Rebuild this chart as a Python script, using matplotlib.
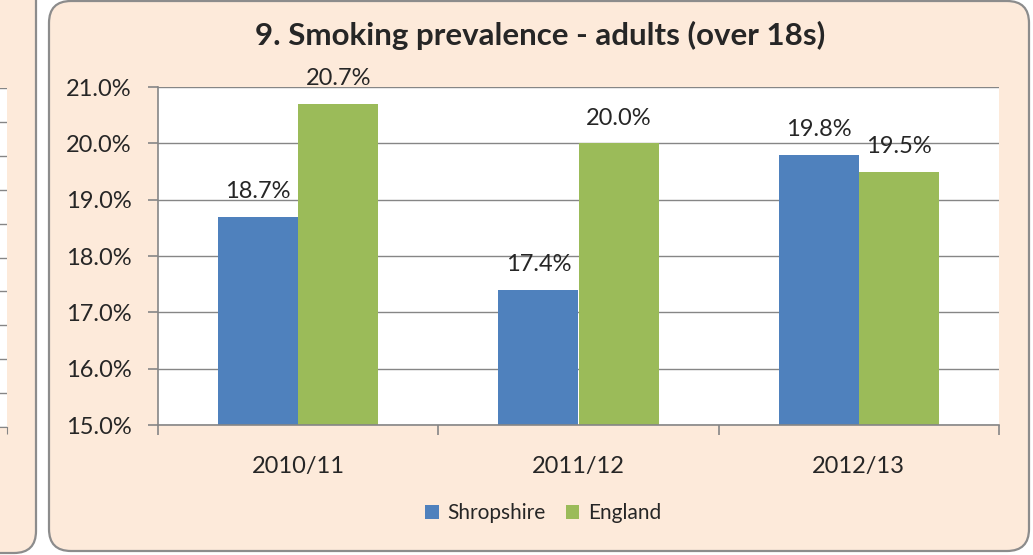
import matplotlib
matplotlib.use("Agg")
import matplotlib.pyplot as plt
from matplotlib.patches import FancyBboxPatch
from matplotlib.transforms import IdentityTransform
import numpy as np

plt.rcParams['font.family'] = ['Lato', 'DejaVu Sans']

categories = ["2010/11", "2011/12", "2012/13"]
shropshire = [18.7, 17.4, 19.8]
england = [20.7, 20.0, 19.5]
series_names = ["Shropshire", "England"]
yticks = [15.0, 16.0, 17.0, 18.0, 19.0, 20.0, 21.0]
title = "9. Smoking prevalence - adults (over 18s)"

W, H = 1033, 555
fig = plt.figure(figsize=(W / 100, H / 100), dpi=100)
fig.patch.set_facecolor("white")

panel_fc = "#FDEADA"
border = "#8C8C8C"
text_c = "#262626"
axis_c = "#868686"

def px_box(x0, y0, x1, y1, r):
    # y measured from top in pixels
    p = FancyBboxPatch((x0, H - y1), x1 - x0, y1 - y0,
                       boxstyle=f"round,pad=0,rounding_size={r}",
                       facecolor=panel_fc, edgecolor=border, linewidth=1.6)
    p.set_transform(IdentityTransform())
    p.set_zorder(-5)
    return p

fig.add_artist(px_box(-60, -30, 36, 553, 22))
fig.add_artist(px_box(49, 1, 1029, 551, 22))

# partial neighbouring chart at left
axl = fig.add_axes([-100 / W, (H - 427) / H, 107 / W, (427 - 88) / H])
axl.set_facecolor("white")
axl.set_xlim(0, 1)
axl.set_ylim(0, 10)
axl.set_yticks(range(11))
axl.grid(axis='y', color=axis_c, linewidth=1.0)
axl.set_xticks([1.0])
axl.tick_params(axis='x', length=5, color=axis_c, labelbottom=False)
axl.tick_params(axis='y', length=0, labelleft=False)
for s in ['top', 'left', 'right']:
    axl.spines[s].set_visible(False)
axl.spines['bottom'].set_color(axis_c)
axl.set_axisbelow(True)

# main chart
ax = fig.add_axes([158 / W, (H - 425) / H, (999 - 158) / W, (425 - 87) / H])
ax.set_facecolor("white")
x = np.arange(len(categories))
bw = 0.2857
b1 = ax.bar(x - bw / 2, shropshire, bw, color="#4F81BD", label=series_names[0], zorder=2)
b2 = ax.bar(x + bw / 2, england, bw, color="#9BBB59", label=series_names[1], zorder=2)
ax.set_ylim(15, 21)
ax.set_xlim(-0.5, len(categories) - 0.5)
ax.set_yticks(yticks)
ax.set_yticklabels([f"{v:.1f}%" for v in yticks])
ax.grid(axis='y', color=axis_c, linewidth=1.0, zorder=0)
ax.set_axisbelow(True)
ax.set_xticks(x)
ax.set_xticklabels(categories)
ax.set_xticks(np.arange(len(categories) + 1) - 0.5, minor=True)
ax.tick_params(axis='x', which='major', length=0, pad=22, labelsize=17, labelcolor=text_c)
ax.tick_params(axis='x', which='minor', length=7, color=axis_c, width=1.2)
ax.tick_params(axis='y', length=7, color=axis_c, width=1.2, pad=12, labelsize=17, labelcolor=text_c)
for s in ['top', 'right']:
    ax.spines[s].set_visible(False)
for s in ['left', 'bottom']:
    ax.spines[s].set_color(axis_c)
    ax.spines[s].set_linewidth(1.2)

for bars, vals in ((b1, shropshire), (b2, england)):
    for rect, v in zip(bars, vals):
        ax.annotate(f"{v:.1f}%", (rect.get_x() + rect.get_width() / 2, v),
                    xytext=(0, 10.5), textcoords='offset points', ha='center', va='bottom',
                    fontsize=17, color=text_c, zorder=3, annotation_clip=False)

fig.text(540 / W, 1 - 35 / H, title, ha='center', va='center', fontsize=22.5,
         fontweight='bold', color=text_c)

fig.legend(handles=[b1, b2], labels=series_names, loc='center',
           bbox_to_anchor=(543 / W, 1 - 513 / H), ncol=2, frameon=False,
           fontsize=15, handlelength=0.65, handleheight=0.65, handletextpad=0.4,
           columnspacing=1.0, labelcolor=text_c)

fig.savefig("out.png", dpi=100)
